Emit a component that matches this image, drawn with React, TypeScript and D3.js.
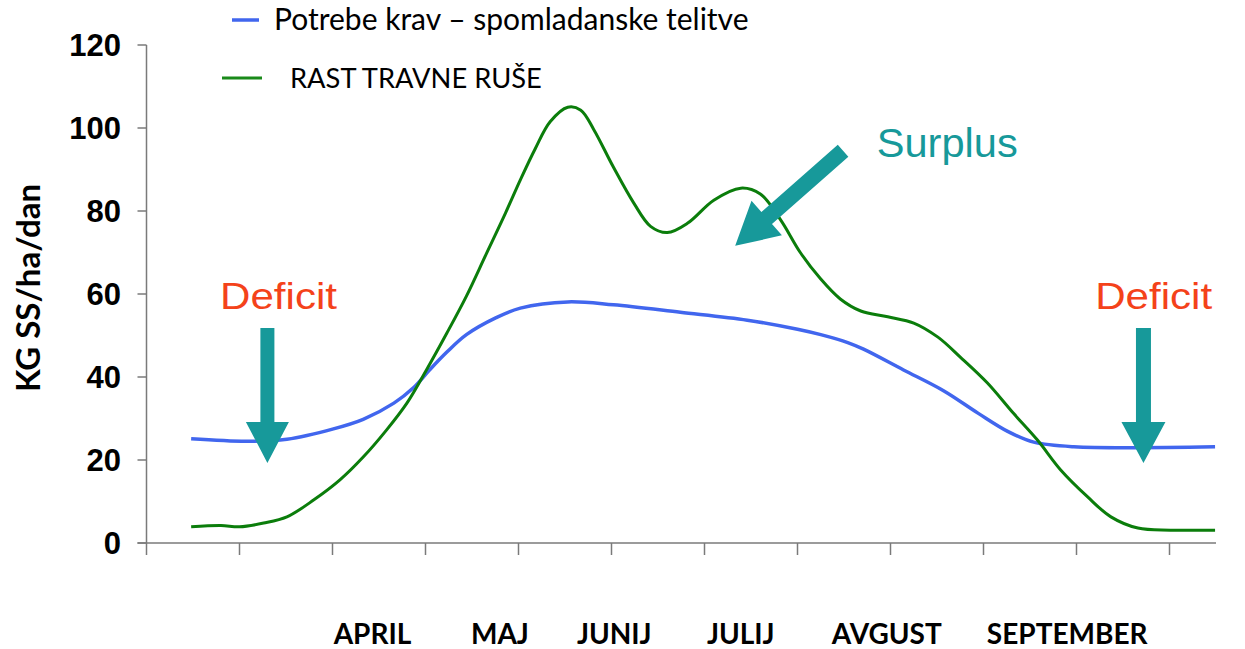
import React from "react";
import * as d3 from "d3";

// x is measured in axis-tick steps (0 = y axis), y in kg SS/ha/dan
const demandX = [0.48, 1.08, 1.51, 2.01, 2.33, 2.66, 2.87, 3.04, 3.23, 3.44, 3.76, 4.02, 4.53, 5.02, 5.74, 6.46, 7.0, 7.25, 7.54, 7.71, 8.14, 8.57, 8.94, 9.26, 9.54, 9.97, 11.49];
const demandY = [25.1, 24.5, 25.0, 27.5, 29.8, 33.7, 37.4, 41.6, 46.0, 50.2, 54.3, 56.6, 58.1, 57.4, 55.6, 53.7, 51.5, 50.2, 48.3, 46.7, 41.7, 36.7, 31.3, 26.9, 24.3, 23.2, 23.2];

const growthX = [0.48, 0.8, 1.0, 1.26, 1.51, 1.8, 2.08, 2.33, 2.58, 2.8, 3.01, 3.23, 3.44, 3.65, 3.86, 4.02, 4.18, 4.34, 4.53, 4.67, 4.81, 5.02, 5.24, 5.42, 5.6, 5.82, 6.1, 6.39, 6.6, 6.82, 7.03, 7.25, 7.46, 7.68, 7.97, 8.25, 8.51, 8.75, 9.04, 9.32, 9.58, 9.83, 10.12, 10.37, 10.66, 11.01, 11.49];
const growthY = [3.9, 4.2, 3.9, 4.8, 6.3, 10.4, 15.2, 20.7, 27.2, 33.7, 41.7, 50.6, 59.5, 69.5, 79.5, 87.5, 95.0, 101.5, 105.0, 104.3, 99.6, 90.6, 81.9, 76.3, 74.8, 77.1, 82.6, 85.5, 84.1, 77.8, 70.0, 63.6, 58.8, 55.9, 54.5, 53.0, 49.6, 44.8, 38.6, 31.3, 24.8, 17.6, 11.1, 6.3, 3.6, 3.1, 3.1];

const yTicks = [0, 20, 40, 60, 80, 100, 120];
const xTicks = [0, 1, 2, 3, 4, 5, 6, 7, 8, 9, 10, 11];

const months = ["APRIL", "MAJ", "JUNIJ", "JULIJ", "AVGUST", "SEPTEMBER"];
const monthX = [2.43, 3.8, 5.03, 6.39, 7.96, 9.9];

const legendLabels = ["Potrebe krav \u2013 spomladanske telitve", "RAST TRAVNE RUŠE"];

const BLUE = "#4166ee";
const GREEN = "#0b7d0b";
const TEAL = "#17999a";
const RED = "#f4421a";

const arrowPoints = (x1: number, y1: number, x2: number, y2: number, sw: number, hw: number, hl: number) => {
  const dx = x2 - x1;
  const dy = y2 - y1;
  const len = Math.hypot(dx, dy);
  const ux = dx / len, uy = dy / len;
  const nx = -uy, ny = ux;
  const bx = x2 - ux * hl, by = y2 - uy * hl;
  const pts = [
    [x1 + nx * sw / 2, y1 + ny * sw / 2],
    [bx + nx * sw / 2, by + ny * sw / 2],
    [bx + nx * hw / 2, by + ny * hw / 2],
    [x2, y2],
    [bx - nx * hw / 2, by - ny * hw / 2],
    [bx - nx * sw / 2, by - ny * sw / 2],
    [x1 - nx * sw / 2, y1 - ny * sw / 2],
  ];
  return pts.map((p) => p.join(",")).join(" ");
};

export default function App() {
  const width = 1245;
  const height = 649;

  const x = d3.scaleLinear().domain([0, 11.5]).range([146.5, 1216]);
  const y = d3.scaleLinear().domain([0, 120]).range([543, 45]);

  const line = d3
    .line<[number, number]>()
    .x((d) => x(d[0]))
    .y((d) => y(d[1]))
    .curve(d3.curveCatmullRom.alpha(0.5));

  const demand = demandX.map((v, i) => [v, demandY[i]] as [number, number]);
  const growth = growthX.map((v, i) => [v, growthY[i]] as [number, number]);

  const axisColor = "#7a7a7a";

  return (
    <svg
      width={width}
      height={height}
      style={{ position: "absolute", left: 0, top: 0, background: "#fff" }}
    >
      {/* y axis */}
      <line x1={x(0)} x2={x(0)} y1={y(120)} y2={y(0)} stroke={axisColor} strokeWidth={1.5} />
      {yTicks.map((t) => (
        <g key={t}>
          <line x1={x(0) - 9} x2={x(0)} y1={y(t)} y2={y(t)} stroke={axisColor} strokeWidth={1.5} />
          <text
            x={121}
            y={y(t)}
            dy="0.36em"
            textAnchor="end"
            fontFamily="Liberation Sans, Arial, sans-serif"
            fontWeight="bold"
            fontSize={31}
            fill="#000"
          >
            {t}
          </text>
        </g>
      ))}

      {/* x axis */}
      <line x1={x(0) - 9} x2={x(11.5)} y1={y(0)} y2={y(0)} stroke={axisColor} strokeWidth={1.5} />
      {xTicks.map((t) => (
        <line key={t} x1={x(t)} x2={x(t)} y1={y(0)} y2={y(0) + 12} stroke={axisColor} strokeWidth={1.5} />
      ))}

      {months.map((m, i) => (
        <text
          key={m}
          x={x(monthX[i])}
          y={644}
          textAnchor="middle"
          fontFamily="Lato, sans-serif"
          fontWeight="bold"
          fontSize={28}
          fill="#000"
        >
          {m}
        </text>
      ))}

      <text
        transform={`translate(40,288) rotate(-90)`}
        textAnchor="middle"
        fontFamily="Lato, sans-serif"
        fontWeight="bold"
        fontSize={33}
        fill="#000"
      >
        KG SS/ha/dan
      </text>

      {/* series */}
      <path d={line(demand) ?? ""} fill="none" stroke={BLUE} strokeWidth={3.5} />
      <path d={line(growth) ?? ""} fill="none" stroke={GREEN} strokeWidth={3} />

      {/* legend */}
      <line x1={232} x2={259} y1={20} y2={20} stroke={BLUE} strokeWidth={3.5} />
      <text x={274} y={30} fontFamily="Lato, sans-serif" fontSize={30} fill="#000">
        {legendLabels[0]}
      </text>
      <line x1={222} x2={262} y1={78} y2={78} stroke="#1a8a1a" strokeWidth={3} />
      <text x={290} y={88} fontFamily="Lato, sans-serif" fontSize={27.3} fill="#000">
        {legendLabels[1]}
      </text>

      {/* annotations */}
      <text
        x={x(1.42)}
        y={y(56.4)}
        textAnchor="middle"
        fontFamily="Liberation Sans, Arial, sans-serif"
        fontSize={37}
        textLength={117}
        lengthAdjust="spacingAndGlyphs"
        fill={RED}
      >
        Deficit
      </text>
      <text
        x={x(10.83)}
        y={y(56.4)}
        textAnchor="middle"
        fontFamily="Liberation Sans, Arial, sans-serif"
        fontSize={37}
        textLength={117}
        lengthAdjust="spacingAndGlyphs"
        fill={RED}
      >
        Deficit
      </text>
      <text
        x={x(8.61)}
        y={y(93)}
        textAnchor="middle"
        fontFamily="Liberation Sans, Arial, sans-serif"
        fontSize={40}
        textLength={141}
        lengthAdjust="spacingAndGlyphs"
        fill={TEAL}
      >
        Surplus
      </text>

      <polygon points={arrowPoints(x(1.3), y(51.8), x(1.3), y(19.3), 14, 43, 41)} fill={TEAL} />
      <polygon points={arrowPoints(x(10.72), y(51.8), x(10.72), y(19.3), 15, 44, 41)} fill={TEAL} />
      <polygon points={arrowPoints(x(7.49), y(94.5), x(6.33), y(71.6), 16, 46, 42)} fill={TEAL} />
    </svg>
  );
}
